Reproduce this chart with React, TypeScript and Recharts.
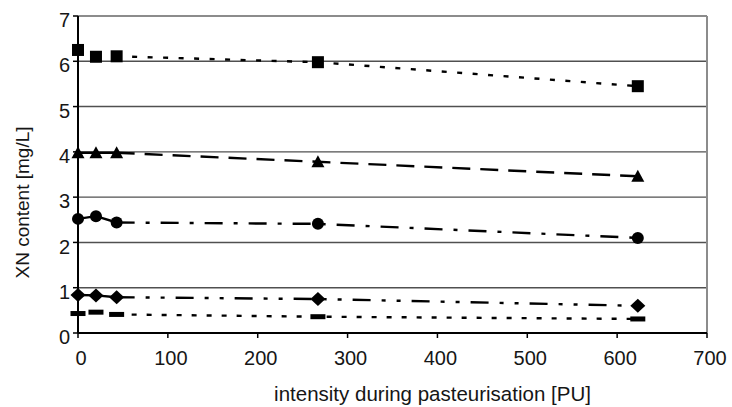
import React from 'react';
import { LineChart, Line, XAxis, YAxis, CartesianGrid, ReferenceLine, Label } from 'recharts';

// Pasteurisation intensity (PU) at each sampling point
const intensityPU = [0, 20, 43, 267, 623];

// XN content (mg/L) per sample series
const squareSeries = [6.25, 6.1, 6.11, 5.98, 5.45];
const triangleSeries = [3.98, 3.98, 3.98, 3.78, 3.46];
const circleSeries = [2.52, 2.58, 2.44, 2.41, 2.1];
const diamondSeries = [0.84, 0.83, 0.79, 0.75, 0.6];
const barSeries = [0.43, 0.46, 0.41, 0.36, 0.31];

const xTicks = [0, 100, 200, 300, 400, 500, 600, 700];
const yTicks = [0, 1, 2, 3, 4, 5, 6, 7];

const FONT = '"Liberation Sans", Arial, sans-serif';
const TEXT = '#161616';

// first three points are joined by a solid line, the rest by a styled dashed line
const head = (arr: number[], i: number) => (i <= 2 ? arr[i] : null);
const tail = (arr: number[], i: number) => (i >= 2 ? arr[i] : null);

const rows = intensityPU.map((pu, i) => ({
  pu,
  sq: squareSeries[i],
  tri: triangleSeries[i],
  circ: circleSeries[i],
  dia: diamondSeries[i],
  bar: barSeries[i],
  triHead: head(triangleSeries, i),
  circHead: head(circleSeries, i),
  diaHead: head(diamondSeries, i),
  sqTail: tail(squareSeries, i),
  triTail: tail(triangleSeries, i),
  circTail: tail(circleSeries, i),
  diaTail: tail(diamondSeries, i),
  barTail: tail(barSeries, i),
}));

const SquareDot = (p: any) =>
  p.cx == null || p.cy == null ? <g key={`sq-${p.index}`} /> : (
    <rect key={`sq-${p.index}`} x={p.cx - 6} y={p.cy - 6} width={12} height={12} fill="#000" />
  );
const TriangleDot = (p: any) =>
  p.cx == null || p.cy == null ? <g key={`tri-${p.index}`} /> : (
    <polygon
      key={`tri-${p.index}`}
      points={`${p.cx},${p.cy - 6.5} ${p.cx + 6.5},${p.cy + 5.5} ${p.cx - 6.5},${p.cy + 5.5}`}
      fill="#000"
    />
  );
const CircleDot = (p: any) =>
  p.cx == null || p.cy == null ? <g key={`c-${p.index}`} /> : (
    <circle key={`c-${p.index}`} cx={p.cx} cy={p.cy} r={6} fill="#000" />
  );
const DiamondDot = (p: any) =>
  p.cx == null || p.cy == null ? <g key={`d-${p.index}`} /> : (
    <polygon
      key={`d-${p.index}`}
      points={`${p.cx},${p.cy - 7} ${p.cx + 7.5},${p.cy} ${p.cx},${p.cy + 7} ${p.cx - 7.5},${p.cy}`}
      fill="#000"
    />
  );
const BarDot = (p: any) =>
  p.cx == null || p.cy == null ? <g key={`b-${p.index}`} /> : (
    <rect key={`b-${p.index}`} x={p.cx - 7.5} y={p.cy - 2.5} width={15} height={5} fill="#000" />
  );

const XTick = (p: any) => (
  <text x={p.x + 3} y={p.y} dy="0.71em" textAnchor="middle" fill={TEXT} fontSize={20} fontFamily={FONT}>
    {p.payload.value}
  </text>
);
const YTick = (p: any) => (
  <text x={p.x} y={p.y + 4} dy="0.355em" textAnchor="end" fill={TEXT} fontSize={20} fontFamily={FONT}>
    {p.payload.value}
  </text>
);

const lineBase = { type: 'linear' as const, stroke: '#000', strokeWidth: 2.4, isAnimationActive: false };

export default function App() {
  return (
    <div style={{ position: 'absolute', left: 0, top: 0, background: '#fff' }}>
      <LineChart width={732} height={407} data={rows} margin={{ top: 16, right: 25, bottom: 0, left: 0 }}>
        <CartesianGrid horizontal vertical={false} stroke="#505050" strokeWidth={1.4} />
        <ReferenceLine y={7} stroke="#8c8c8c" strokeWidth={2} />
        <ReferenceLine x={700} stroke="#8c8c8c" strokeWidth={2} />
        <XAxis
          type="number"
          dataKey="pu"
          domain={[0, 700]}
          ticks={xTicks}
          height={74}
          axisLine={{ stroke: '#000', strokeWidth: 2 }}
          tickLine={{ stroke: '#000', strokeWidth: 1.5 }}
          tickSize={5}
          tickMargin={13}
          tick={XTick}
          interval={0}
        >
          <Label
            content={(props: any) => {
              const vb = props.viewBox || { x: 78, y: 333, width: 629, height: 74 };
              return (
                <text
                  x={vb.x + vb.width / 2 + 40}
                  y={401}
                  textAnchor="middle"
                  fill={TEXT}
                  fontSize={20.5}
                  fontFamily={FONT}
                >
                  intensity during pasteurisation [PU]
                </text>
              );
            }}
          />
        </XAxis>
        <YAxis
          type="number"
          domain={[0, 7]}
          ticks={yTicks}
          width={78}
          axisLine={{ stroke: '#000', strokeWidth: 2 }}
          tickLine={{ stroke: '#000', strokeWidth: 1.5 }}
          tickSize={5}
          tickMargin={3}
          tick={YTick}
          interval={0}
        >
          <Label
            content={(props: any) => {
              const vb = props.viewBox || { x: 0, y: 16, width: 78, height: 317 };
              const cx = 29;
              const cy = vb.y + vb.height / 2 + 28;
              return (
                <text
                  x={cx}
                  y={cy}
                  transform={`rotate(-90, ${cx}, ${cy})`}
                  textAnchor="middle"
                  fill={TEXT}
                  fontSize={19}
                  fontFamily={FONT}
                >
                  XN content [mg/L]
                </text>
              );
            }}
          />
        </YAxis>

        {/* solid joins between the first three samples */}
        <Line {...lineBase} dataKey="triHead" dot={false} activeDot={false} />
        <Line {...lineBase} dataKey="circHead" dot={false} activeDot={false} />
        <Line {...lineBase} dataKey="diaHead" dot={false} activeDot={false} />

        {/* styled lines towards the higher intensities */}
        <Line {...lineBase} dataKey="sqTail" strokeDasharray="5 10.5" dot={false} activeDot={false} />
        <Line {...lineBase} dataKey="triTail" strokeDasharray="18 10" dot={false} activeDot={false} />
        <Line {...lineBase} dataKey="circTail" strokeDasharray="18 11 4 11" dot={false} activeDot={false} />
        <Line {...lineBase} dataKey="diaTail" strokeDasharray="18 11 4 11 4 11" dot={false} activeDot={false} />
        <Line {...lineBase} dataKey="barTail" strokeDasharray="5 10" dot={false} activeDot={false} />

        {/* markers */}
        <Line {...lineBase} dataKey="sq" stroke="none" dot={SquareDot} activeDot={false} />
        <Line {...lineBase} dataKey="tri" stroke="none" dot={TriangleDot} activeDot={false} />
        <Line {...lineBase} dataKey="circ" stroke="none" dot={CircleDot} activeDot={false} />
        <Line {...lineBase} dataKey="dia" stroke="none" dot={DiamondDot} activeDot={false} />
        <Line {...lineBase} dataKey="bar" stroke="none" dot={BarDot} activeDot={false} />
      </LineChart>
    </div>
  );
}
